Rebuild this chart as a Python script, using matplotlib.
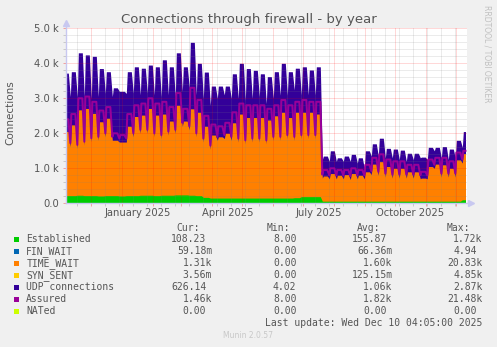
import numpy as np
import matplotlib
matplotlib.use('Agg')
import matplotlib.pyplot as plt
import matplotlib.dates as mdates
from matplotlib.patches import Rectangle
from matplotlib.ticker import FixedLocator, FuncFormatter, NullFormatter
from matplotlib.transforms import blended_transform_factory

W, H = 497, 347

# one column per week, weeks start on Sunday 2024-11-03
# "lo" = weekend level, "hi" = working-day level
established = [220, 220, 230, 220, 220, 210, 220, 220, 210, 220,
               220, 230, 230, 220, 230, 230, 240, 240, 230, 220,
               170, 150, 150, 150, 150, 150, 150, 150, 150, 150,
               150, 150, 150, 160, 190, 190, 190, 60, 60, 60,
               60, 60, 60, 60, 60, 60, 60, 60, 60, 60,
               60, 60, 60, 60, 60, 60, 60, 100]
time_wait_lo = [1680, 1400, 1340, 1440, 1540, 1590, 1680, 1580, 1540, 1530,
                1680, 1770, 1770, 1680, 1620, 1720, 1760, 1960, 1870, 1680,
                1580, 1400, 1650, 1700, 1650, 1600, 1550, 1600, 1600, 1550,
                1650, 1650, 1700, 1640, 1660, 1660, 1660, 660, 640, 640,
                640, 620, 640, 640, 760, 740, 690, 660, 660, 660,
                660, 640, 640, 940, 690, 690, 690, 1050]
time_wait_hi = [1830, 2020, 2440, 2490, 2350, 2120, 2210, 1580, 1540, 1980,
                2260, 2290, 2480, 2300, 2320, 2120, 2560, 2110, 2470, 2380,
                2030, 1800, 1750, 1850, 2150, 2400, 2300, 2300, 2300, 2230,
                2350, 2450, 2300, 2440, 2410, 2410, 2360, 720, 790, 740,
                760, 790, 740, 840, 1060, 1130, 990, 940, 940, 840,
                840, 660, 990, 1060, 1040, 940, 1180, 1320]
udp_lo = [1500, 1430, 1480, 1390, 1240, 1250, 1240, 1250, 1450, 1390,
          1250, 1100, 1150, 1200, 1200, 1150, 1050, 1000, 1200, 1200,
          1250, 1250, 1200, 1250, 1200, 1250, 1250, 1250, 1300, 1150,
          1200, 1290, 1240, 1440, 1250, 1250, 1250, 530, 500, 500,
          500, 520, 450, 300, 530, 550, 550, 580, 530, 480,
          530, 600, 550, 500, 550, 500, 550, 450]
udp_hi = [1670, 1520, 1630, 1530, 1630, 1520, 1330, 1500, 1450, 1560,
          1420, 1340, 1240, 1380, 1550, 1550, 1500, 1550, 1900, 1400,
          1550, 1400, 1450, 1350, 1400, 1450, 1400, 1350, 1250, 1240,
          1260, 1400, 1310, 1260, 1300, 1210, 1350, 570, 650, 500,
          530, 550, 500, 600, 580, 670, 520, 550, 520, 530,
          530, 600, 550, 480, 520, 550, 560, 630]
assured_lo = [2000, 1720, 1670, 1760, 1860, 1900, 2000, 1900, 1850, 1850,
              2000, 2100, 2100, 2000, 1950, 2050, 2100, 2300, 2200, 2000,
              1850, 1650, 1900, 1950, 1900, 1850, 1800, 1850, 1850, 1800,
              1900, 1900, 1950, 1900, 1950, 1950, 1950, 820, 800, 800,
              800, 780, 800, 800, 920, 900, 850, 820, 820, 820,
              820, 800, 800, 1100, 850, 850, 850, 1250]
assured_hi = [2400, 2550, 3000, 3050, 2900, 2650, 2750, 2000, 1950, 2550,
              2800, 2850, 3000, 2850, 2900, 2750, 3150, 2700, 3300, 2950,
              2500, 2250, 2200, 2300, 2600, 2850, 2800, 2800, 2800, 2700,
              2800, 2950, 2800, 2900, 2950, 2900, 2900, 950, 1000, 950,
              950, 1000, 950, 1100, 1300, 1400, 1250, 1200, 1200, 1100,
              1100, 900, 1250, 1300, 1300, 1200, 1450, 1500]

series = ['Established', 'FIN_WAIT', 'TIME_WAIT', 'SYN_SENT',
          'UDP connections', 'Assured', 'NATed']
colors = ['#00CC00', '#0066B3', '#FF8000', '#FFCC00',
          '#330099', '#990099', '#CCFF00']
# trailing blank stands for "no unit", as in the rrdtool legend
cur_vals = ['108.23 ', '59.18m', '1.31k', '3.56m', '626.14 ', '1.46k', '0.00 ']
min_vals = ['8.00 ', '0.00 ', '0.00 ', '0.00 ', '4.02 ', '8.00 ', '0.00 ']
avg_vals = ['155.87 ', '66.36m', '1.60k', '125.15m', '1.06k', '1.82k', '0.00 ']
max_vals = ['1.72k', '4.94 ', '20.83k', '4.85k', '2.87k', '21.48k', '0.00 ']

start = np.datetime64('2024-11-05T16:00')
end = np.datetime64('2025-12-11T16:00')
last = np.datetime64('2025-12-10T04:05')

# Sunday = weekend dip, Monday and Friday = working-day level
weeks = np.datetime64('2024-11-03') + np.arange(len(established)) * np.timedelta64(7, 'D')
t = (weeks[:, None] + np.array([0, 1, 5]) * np.timedelta64(1, 'D')).ravel()
t = np.minimum(t.astype('datetime64[m]'), last)
x = mdates.date2num(t)


def weekly(lo, hi):
    return np.column_stack([lo, hi, hi]).ravel().astype(float)


est = weekly(established, established)
tw = weekly(time_wait_lo, time_wait_hi)
udp = weekly(udp_lo, udp_hi)
asr = weekly(assured_lo, assured_hi)

fig = plt.figure(figsize=(W / 100, H / 100), dpi=100, facecolor='#F0F0F0')
ax = fig.add_axes([66 / W, 1 - 203.3 / H, 401 / W, 175 / H])
ax.set_facecolor('white')

# stacked areas, drawn from the bottom each time to avoid seams
ax.fill_between(x, 0, est + tw + udp, color=colors[4], lw=0)
ax.fill_between(x, 0, est + tw, color=colors[2], lw=0)
ax.fill_between(x, 0, est, color=colors[0], lw=0)
ax.plot(x, asr, color=colors[5], lw=1.44, zorder=3)

ax.set_xlim(mdates.date2num(start), mdates.date2num(end))
ax.set_ylim(0, 5000)

months = np.datetime64('2024-12', 'M') + np.arange(13)
months = mdates.date2num(months.astype('datetime64[D]'))
fortnights = mdates.date2num(np.datetime64('2024-11-17') + np.arange(28) * np.timedelta64(14, 'D'))
ax.xaxis.set_major_locator(FixedLocator(months))
ax.xaxis.set_minor_locator(FixedLocator(fortnights))
ax.xaxis.set_major_formatter(NullFormatter())
ax.yaxis.set_major_locator(FixedLocator(np.arange(0, 5001, 1000)))
ax.yaxis.set_minor_locator(FixedLocator(np.arange(0, 5001, 200)))
ax.yaxis.set_major_formatter(FuncFormatter(lambda v, p: '0.0' if v == 0 else f'{v / 1000:.1f} k'))

ax.set_axisbelow(False)
ax.grid(which='minor', color='#808080', alpha=0.3, lw=0.72, ls=(0, (1, 1)))
ax.grid(which='major', color='#FF0000', alpha=0.3, lw=0.72, ls=(0, (1, 1)))
ax.tick_params(which='both', direction='out', length=2, width=0.7, labelsize=7.2,
               labelcolor='#555555', pad=3)
ax.tick_params(which='major', color='#F0A0A0')
ax.tick_params(which='minor', color='#C8C8C8')
for s in ax.spines.values():
    s.set_visible(False)

# axes with arrow heads
axis_c = '#C8C8F0'
ax.plot([0, 0], [0, 1.03], transform=ax.transAxes, color=axis_c, lw=1, clip_on=False, zorder=4)
ax.plot([0, 1.01], [0, 0], transform=ax.transAxes, color=axis_c, lw=1, clip_on=False, zorder=4)
ax.plot([0], [1.03], marker='^', ms=4, color=axis_c, transform=ax.transAxes, clip_on=False)
ax.plot([1.01], [0], marker='>', ms=4, color=axis_c, transform=ax.transAxes, clip_on=False)

# quarter labels centred on mid-month
trans = blended_transform_factory(ax.transData, fig.transFigure)
for d, lab in [('2025-01-16', 'January 2025'), ('2025-04-16', 'April 2025'),
               ('2025-07-16', 'July 2025'), ('2025-10-16', 'October 2025')]:
    ax.text(mdates.date2num(np.datetime64(d)), 1 - 212.5 / H, lab, transform=trans,
            ha='center', va='center', size=7.2, color='#555555')


def ftext(px, py, s, **kw):
    fig.text(px / W, 1 - py / H, s, **kw)


ftext(248.5, 19, 'Connections through firewall - by year', ha='center', va='center',
      size=9.5, color='#555555')
ftext(10, 113, 'Connections', rotation=90, ha='center', va='center', size=7.5, color='#555555')
ftext(487, 5, 'RRDTOOL / TOBI OETIKER', rotation=270, ha='center', va='top',
      size=5.5, color='#C0C0C0')

mono = dict(family='DejaVu Sans Mono', size=7, color='#555555', va='center')
cw = 5.85  # width of one monospace character in pixels
for lab, px in [('Cur:', 176), ('Min:', 267), ('Avg:', 357), ('Max:', 447)]:
    ftext(px, 227.7, lab, ha='left', **mono)

col_right = [212, 302.2, 392.6, 482.5]
for i, name in enumerate(series):
    y = 239.5 + 12 * i
    fig.add_artist(Rectangle((14 / W, 1 - (y + 2.7) / H), 5.3 / W, 5.3 / H,
                             transform=fig.transFigure, color=colors[i], lw=0))
    ftext(26.3, y, name, ha='left', **mono)
    for col, val in zip(col_right, [cur_vals[i], min_vals[i], avg_vals[i], max_vals[i]]):
        ftext(col - len(val) * cw, y, val.rstrip(), ha='left', **mono)

ftext(482.5, 323, 'Last update: Wed Dec 10 04:05:00 2025', ha='right', **mono)
ftext(248, 336, 'Munin 2.0.57', ha='center', va='center', size=5.5, color='#C8C8C8')

fig.savefig('out.png', dpi=100, facecolor=fig.get_facecolor())
